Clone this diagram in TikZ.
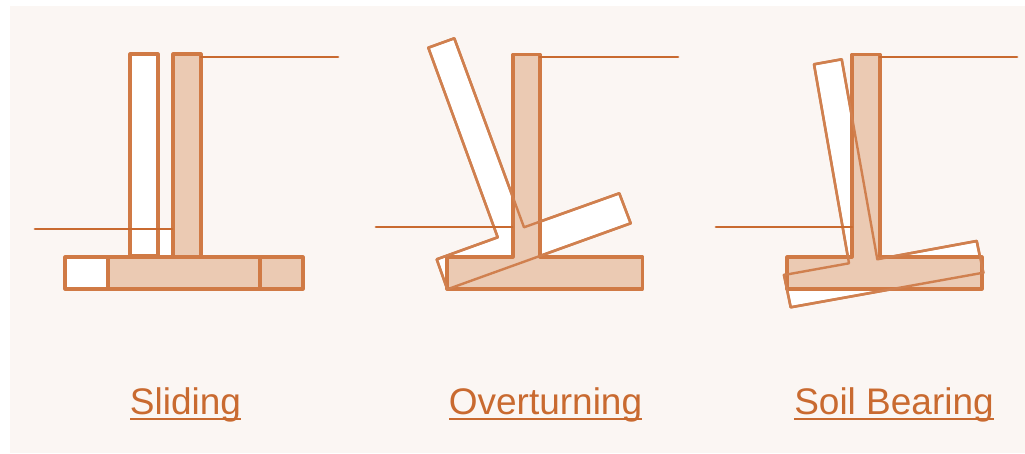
\documentclass[tikz,border=0pt]{standalone}
\usepackage{fontspec}
\setmainfont{Liberation Sans}
\definecolor{linec}{HTML}{C96A30}
\definecolor{partc}{HTML}{D07A45}
\definecolor{ghostc}{HTML}{D0804F}
\definecolor{fillc}{HTML}{EBCAB3}
\definecolor{panelc}{HTML}{FBF6F3}
\tikzset{
  solid part/.style={draw=partc,fill=fillc,line width=3.1pt,line join=round},
  ghost part/.style={draw=ghostc,fill=white,line width=2.6pt,line join=round},
  ghost line/.style={draw=ghostc,line width=2.4pt,line join=round},
  ground/.style={draw=linec,line width=2.8pt,line cap=round},
  caption/.style={text=linec,font=\fontsize{37}{37}\selectfont,inner sep=0pt,anchor=base},
  rule/.style={draw=linec,line width=2.8pt}
}
\begin{document}
\begin{tikzpicture}[x=1pt,y=-1pt]
\useasboundingbox (0,0) rectangle (1025,453);
\fill[white] (0,0) rectangle (1025,453);
\fill[panelc] (10,6) rectangle (1025,452.6);

% Sliding
\fill[white] (130,229) rectangle (172,256);
\draw[solid part,fill=white] (130,54) rectangle (158,256);
\draw[solid part,fill=white] (65,257) rectangle (108,289);
\draw[solid part] (173,54) rectangle (201,257);
\draw[solid part] (108,257) rectangle (260,289);
\draw[solid part] (260,257) rectangle (303,289);
\draw[ground] (201,57) -- (338,57);
\draw[ground] (35,229) -- (172,229);
\node[caption] (sliding) at (185.5,414) {Sliding};
\draw[rule] (130,419) -- (241,419);

% Overturning
\draw[ghost part] (428.3,47.7) -- (454.3,38.3) -- (524,227.3) -- (619.3,193.3) -- (630.7,223.3) -- (447.3,289.3) -- (436.7,259.3) -- (497.7,237.3) -- cycle;
\draw[solid part] (513,54.5) -- (540,54.5) -- (540,257) -- (642.5,257) -- (642.5,289) -- (447,289) -- (447,257) -- (513,257) -- cycle;
\draw[ghost line] (428.3,47.7) -- (454.3,38.3) -- (524,227.3) -- (619.3,193.3) -- (630.7,223.3) -- (447.3,289.3) -- (436.7,259.3) -- (497.7,237.3) -- cycle;
\draw[ground] (540,57) -- (678,57);
\draw[ground] (376,227) -- (512,227);
\node[caption] (overturning) at (545.5,414) {Overturning};
\draw[rule] (449,419) -- (642,419);

% Soil Bearing
\draw[ghost part] (814,64.3) -- (841.7,59.3) -- (877.3,259.3) -- (976.7,241) -- (983.3,272.7) -- (790.7,307.3) -- (784,275) -- (849,263.3) -- cycle;
\draw[solid part] (852,54.5) -- (880,54.5) -- (880,257) -- (982,257) -- (982,289) -- (787,289) -- (787,257) -- (852,257) -- cycle;
\draw[ghost line] (814,64.3) -- (841.7,59.3) -- (877.3,259.3) -- (976.7,241) -- (983.3,272.7) -- (790.7,307.3) -- (784,275) -- (849,263.3) -- cycle;
\draw[ground] (880,57) -- (1017,57);
\draw[ground] (716,227) -- (852,227);
\node[caption] (bearing) at (894,414) {Soil Bearing};
\draw[rule] (794,419) -- (994,419);
\end{tikzpicture}
\end{document}
